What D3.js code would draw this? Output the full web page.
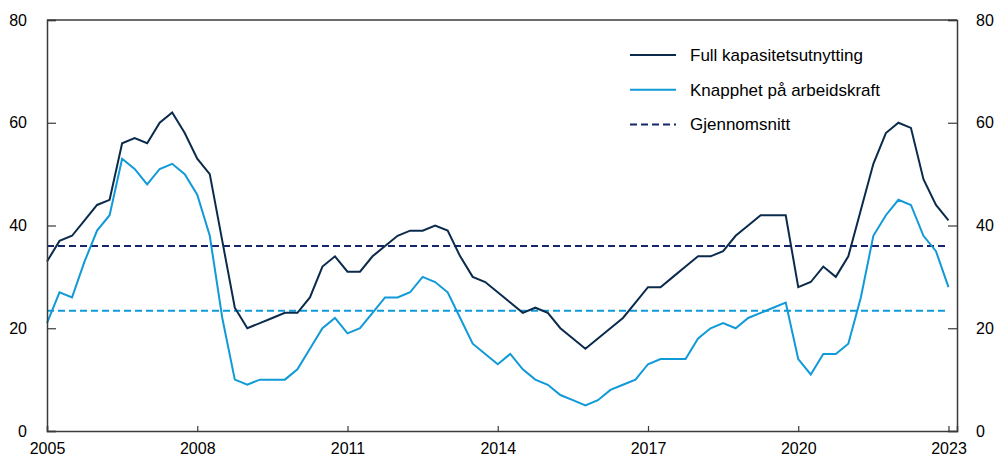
<!DOCTYPE html>
<html>
<head>
<meta charset="utf-8">
<script src="https://cdn.jsdelivr.net/npm/d3@7"></script>
<style>
  body { margin: 0; background: #fff; }
  text { font-family: "Liberation Sans", Arial, sans-serif; }
</style>
</head>
<body>
<script>
//Variables
const width = 998;
const height = 461;
const margin = {left: 47, right: 41, top: 20, bottom: 30};

//Data (quarterly, 2005Q1 - 2023Q1)
const startYear = 2005;
const fullCapacity = [
  33, 37, 38, 41, 44, 45, 56, 57, 56, 60, 62, 58,
  53, 50, 37, 24, 20, 21, 22, 23, 23, 26, 32, 34,
  31, 31, 34, 36, 38, 39, 39, 40, 39, 34, 30, 29,
  27, 25, 23, 24, 23, 20, 18, 16, 18, 20, 22, 25,
  28, 28, 30, 32, 34, 34, 35, 38, 40, 42, 42, 42,
  28, 29, 32, 30, 34, 43, 52, 58, 60, 59, 49, 44,
  41
];
const labourShortage = [
  21, 27, 26, 33, 39, 42, 53, 51, 48, 51, 52, 50,
  46, 38, 22, 10, 9, 10, 10, 10, 12, 16, 20, 22,
  19, 20, 23, 26, 26, 27, 30, 29, 27, 22, 17, 15,
  13, 15, 12, 10, 9, 7, 6, 5, 6, 8, 9, 10,
  13, 14, 14, 14, 18, 20, 21, 20, 22, 23, 24, 25,
  14, 11, 15, 15, 17, 26, 38, 42, 45, 44, 38, 35,
  28
];
const averages = [36, 23.4];
const yTicks = [0, 20, 40, 60, 80];
const xTicks = [2005, 2008, 2011, 2014, 2017, 2020, 2023];
const seriesNames = ["Full kapasitetsutnytting", "Knapphet på arbeidskraft", "Gjennomsnitt"];

const darkBlue = "#0b2b4c";
const lightBlue = "#109ad7";
const dashBlue = "#16266b";
const axisColor = "#3a3a3a";

const toDate = (d, i) => ({x: startYear + i * 0.25, y: d});

//SVG creation
const svg = d3.select("body")
  .append("svg")
  .attr("width", width)
  .attr("height", height);

const xScale = d3.scaleLinear()
  .domain([2005, 2023.17])
  .range([margin.left, width - margin.right]);

const yScale = d3.scaleLinear()
  .domain([0, 80])
  .range([height - margin.bottom, margin.top]);

//Average lines
const avgColors = [dashBlue, lightBlue];
averages.forEach((a, i) => {
  svg.append("line")
    .attr("x1", xScale(2005))
    .attr("x2", xScale(2023))
    .attr("y1", yScale(a))
    .attr("y2", yScale(a))
    .attr("stroke", avgColors[i])
    .attr("stroke-width", 2)
    .attr("stroke-dasharray", "7,4");
});

//Lines
const line = d3.line()
  .x(d => xScale(d.x))
  .y(d => yScale(d.y));

svg.append("path")
  .datum(labourShortage.map(toDate))
  .attr("fill", "none")
  .attr("stroke", lightBlue)
  .attr("stroke-width", 2)
  .attr("d", line);

svg.append("path")
  .datum(fullCapacity.map(toDate))
  .attr("fill", "none")
  .attr("stroke", darkBlue)
  .attr("stroke-width", 2)
  .attr("d", line);

//Axes
const yLeft = d3.axisLeft(yScale).tickValues(yTicks).tickSize(-9).tickPadding(20);
const yRight = d3.axisRight(yScale).tickValues(yTicks).tickSize(-9).tickPadding(19);
const xAxis = d3.axisBottom(xScale).tickValues(xTicks).tickFormat(d3.format("d")).tickSize(-5).tickPadding(12);

const gx = svg.append("g")
  .attr("transform", `translate(0, ${height - margin.bottom})`)
  .call(xAxis);

const gl = svg.append("g")
  .attr("transform", `translate(${margin.left}, 0)`)
  .call(yLeft);

const gr = svg.append("g")
  .attr("transform", `translate(${width - margin.right}, 0)`)
  .call(yRight);

[gx, gl, gr].forEach(g => {
  g.select(".domain").attr("stroke", axisColor).attr("stroke-width", 1.5);
  g.selectAll(".tick line").attr("stroke", axisColor).attr("stroke-width", 1.2);
  g.selectAll(".tick text").attr("font-size", 16).attr("fill", "#000")
    .style("font-family", "'Liberation Sans', Arial, sans-serif");
});

//Top border
svg.append("line")
  .attr("x1", margin.left)
  .attr("x2", width - margin.right)
  .attr("y1", yScale(80))
  .attr("y2", yScale(80))
  .attr("stroke", axisColor)
  .attr("stroke-width", 1.5);

//Legend
const legend = svg.append("g").attr("transform", "translate(630, 55)");
const legendColors = [darkBlue, lightBlue, dashBlue];
seriesNames.forEach((name, i) => {
  const row = legend.append("g").attr("transform", `translate(0, ${i * 34.7})`);
  row.append("line")
    .attr("x1", 0).attr("x2", 46)
    .attr("stroke", legendColors[i])
    .attr("stroke-width", 2)
    .attr("stroke-dasharray", i === 2 ? "7,4" : null);
  row.append("text")
    .attr("x", 60)
    .attr("y", 6)
    .attr("font-size", 17)
    .text(name);
});
</script>
</body>
</html>
